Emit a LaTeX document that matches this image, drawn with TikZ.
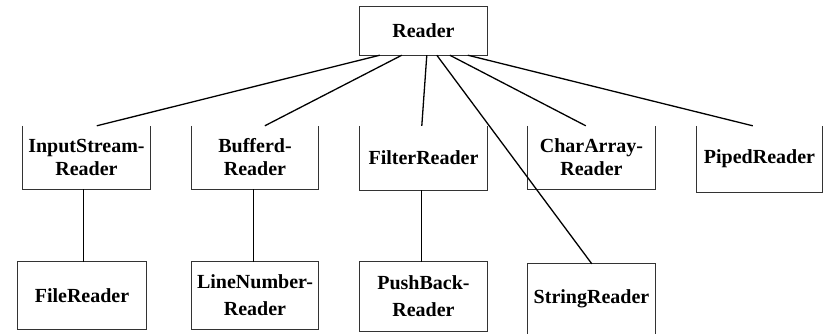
\documentclass[tikz,border=0pt]{standalone}
\usepackage{fontspec}
\setmainfont{Liberation Serif}
\usetikzlibrary{calc}
\begin{document}
\begin{tikzpicture}[x=1pt,y=-1pt,
  box/.style={rectangle, inner sep=0pt, align=center,
    font=\fontsize{20}{23}\selectfont\bfseries},
  lowbox/.style={box, font=\fontsize{20}{27}\selectfont\bfseries},
  frame/.style={draw=black!80, line width=0.9pt},
  link/.style={draw=black, line width=1.3pt},
  sublink/.style={draw=black, line width=0.9pt}]
\useasboundingbox[fill=white] (0,0) rectangle (823,333);

% root
\node[box, minimum width=127pt, minimum height=48pt] (reader) at (423.5,31) {Reader};
\draw[frame] (reader.south west) rectangle (reader.north east);

% second level (open at the top)
\node[box, minimum width=127pt, minimum height=63pt] (isr) at (86.5,157.5) {InputStream-\\Reader};
\node[box, minimum width=126pt, minimum height=63pt] (buf) at (255,157.5) {Bufferd-\\Reader};
\node[box, minimum width=127pt, minimum height=64pt] (filter) at (423.5,158) {FilterReader};
\node[box, minimum width=127pt, minimum height=63pt] (chararr) at (591.5,157.5) {CharArray-\\Reader};
\node[box, minimum width=125pt, minimum height=66pt] (piped) at (759.5,159) {PipedReader};
\foreach \n in {isr,buf,filter,chararr,piped}
  \draw[frame] (\n.north west) -- (\n.south west) -- (\n.south east) -- (\n.north east);

% third level
\node[lowbox, minimum width=128pt, minimum height=67pt] (file) at (82,295.5) {FileReader};
\node[lowbox, minimum width=126pt, minimum height=67pt] (linenum) at (255,295.5) {LineNumber-\\Reader};
\node[lowbox, minimum width=127pt, minimum height=69pt] (pushback) at (423.5,296.5) {PushBack-\\Reader};
\node[lowbox, minimum width=127pt, minimum height=70pt] (string) at (591.5,299) {StringReader};
\foreach \n in {file,linenum,pushback}
  \draw[frame] (\n.south west) rectangle (\n.north east);
\draw[frame] (string.south west) -- (string.north west) -- (string.north east) -- (string.south east);

% connectors from the root
\draw[link] ([xshift=20pt]reader.south west) -- ([xshift=74pt]isr.north west);
\draw[link] ([xshift=42pt]reader.south west) -- ([xshift=73pt]buf.north west);
\draw[link] ([xshift=67pt]reader.south west) -- ([xshift=62pt]filter.north west);
\draw[link] ([xshift=77pt]reader.south west) -- ([xshift=64pt]string.north west);
\draw[link] ([xshift=90pt]reader.south west) -- ([xshift=58pt]chararr.north west);
\draw[link] ([xshift=108pt]reader.south west) -- ([xshift=56pt]piped.north west);

% connectors to the third level
\draw[sublink] ([xshift=61pt]isr.south west) -- ([xshift=66pt]file.north west);
\draw[sublink] ([xshift=62pt]buf.south west) -- ([xshift=62pt]linenum.north west);
\draw[sublink] ([xshift=62pt]filter.south west) -- ([xshift=62pt]pushback.north west);
\end{tikzpicture}
\end{document}
